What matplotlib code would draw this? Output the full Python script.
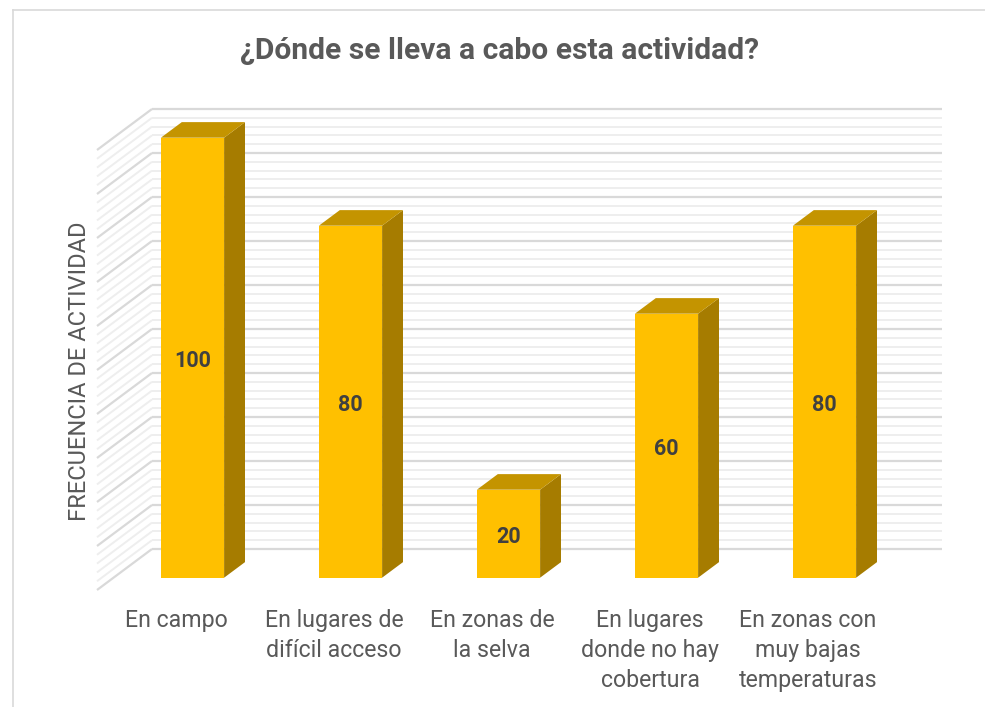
import matplotlib
matplotlib.use("Agg")
import matplotlib.pyplot as plt
from matplotlib.patches import Polygon, Rectangle
from matplotlib.lines import Line2D

plt.rcParams['font.family'] = ['Roboto', 'DejaVu Sans']

# ---- data ----
categories = [
    "En campo",
    "En lugares de\ndifícil acceso",
    "En zonas de\nla selva",
    "En lugares\ndonde no hay\ncobertura",
    "En zonas con\nmuy bajas\ntemperaturas",
]
values = [100, 80, 20, 60, 80]
title = "¿Dónde se lleva a cabo esta actividad?"
y_label = "FRECUENCIA DE ACTIVIDAD"
y_max = 100
major_step = 10
minor_step = 2

# ---- figure / axes (front plane of the 3-D box) ----
W, H, DPI = 985, 707, 100
fig = plt.figure(figsize=(W / DPI, H / DPI), dpi=DPI)
left_px, right_px, floor_px, top_px = 97, 887, 590, 150
ax = fig.add_axes([left_px / W, (H - floor_px) / H,
                   (right_px - left_px) / W, (floor_px - top_px) / H])
n = len(categories)
ax.set_xlim(0, n)
ax.set_ylim(0, y_max)
ax.axis('off')

# depth vector of the box in data units (55 px right, 41 px up)
px_x = (right_px - left_px) / n
px_y = (floor_px - top_px) / y_max
DX, DY = 55 / px_x, 41 / px_y

major_col = '#d9d9d9'
minor_col = '#eeeeee'

# back wall + side wall gridlines
for v in range(0, y_max + 1, minor_step):
    col = major_col if v % major_step == 0 else minor_col
    lw = 1.6 if v % major_step == 0 else 1.4
    z = 1 if v % major_step == 0 else 0
    ax.plot([DX, n + DX], [v + DY, v + DY], color=col, lw=lw,
            clip_on=False, zorder=z, solid_capstyle='butt')
    ax.plot([0, DX], [v, v + DY], color=col, lw=lw,
            clip_on=False, zorder=z, solid_capstyle='butt')

# bars
bar_w = 0.40
d_front = 0.30
d_depth = 0.38
front_col = '#FFC000'
top_col = '#C49400'
side_col = '#A67C00'
for i, v in enumerate(values):
    x0 = i + 0.5 - bar_w / 2 + d_front * DX
    y0 = d_front * DY
    ox, oy = d_depth * DX, d_depth * DY
    ax.add_patch(Polygon([(x0 + bar_w, y0), (x0 + bar_w + ox, y0 + oy),
                          (x0 + bar_w + ox, y0 + v + oy), (x0 + bar_w, y0 + v)],
                         closed=True, facecolor=side_col, edgecolor='none',
                         clip_on=False, zorder=3))
    ax.add_patch(Polygon([(x0, y0 + v), (x0 + bar_w, y0 + v),
                          (x0 + bar_w + ox, y0 + v + oy), (x0 + ox, y0 + v + oy)],
                         closed=True, facecolor=top_col, edgecolor='none',
                         clip_on=False, zorder=3))
    ax.add_patch(Rectangle((x0, y0), bar_w, v, facecolor=front_col,
                           edgecolor='none', clip_on=False, zorder=4))
    ax.annotate(f"{v}", xy=(x0 + bar_w / 2, y0 + v / 2), xytext=(0, -3),
                textcoords='offset pixels', ha='center', va='center',
                fontsize=15.5, fontweight='bold', color='#404040', zorder=5,
                annotation_clip=False)

# category labels under the floor
for i, c in enumerate(categories):
    ax.annotate(c, xy=(i + 0.5, 0), xytext=(0, -19), textcoords='offset pixels',
                ha='center', va='top', fontsize=16.7, color='#595959',
                linespacing=1.38, annotation_clip=False)

# axis title and chart title
fig.text(80 / W, 1 - 371 / H, y_label, rotation=90, ha='center', va='center',
         fontsize=17, color='#595959')
fig.text(500 / W, 1 - 51 / H, title, ha='center', va='center',
         fontsize=21.6, fontweight='bold', color='#595959')

# chart frame (left and top edges)
fig.add_artist(Line2D([13 / W, 13 / W], [0, 1 - 10 / H], color='#d9d9d9', lw=1.2))
fig.add_artist(Line2D([13 / W, 1], [1 - 10 / H, 1 - 10 / H], color='#d9d9d9', lw=1.2))

fig.savefig('out.png', dpi=DPI, facecolor='white')
